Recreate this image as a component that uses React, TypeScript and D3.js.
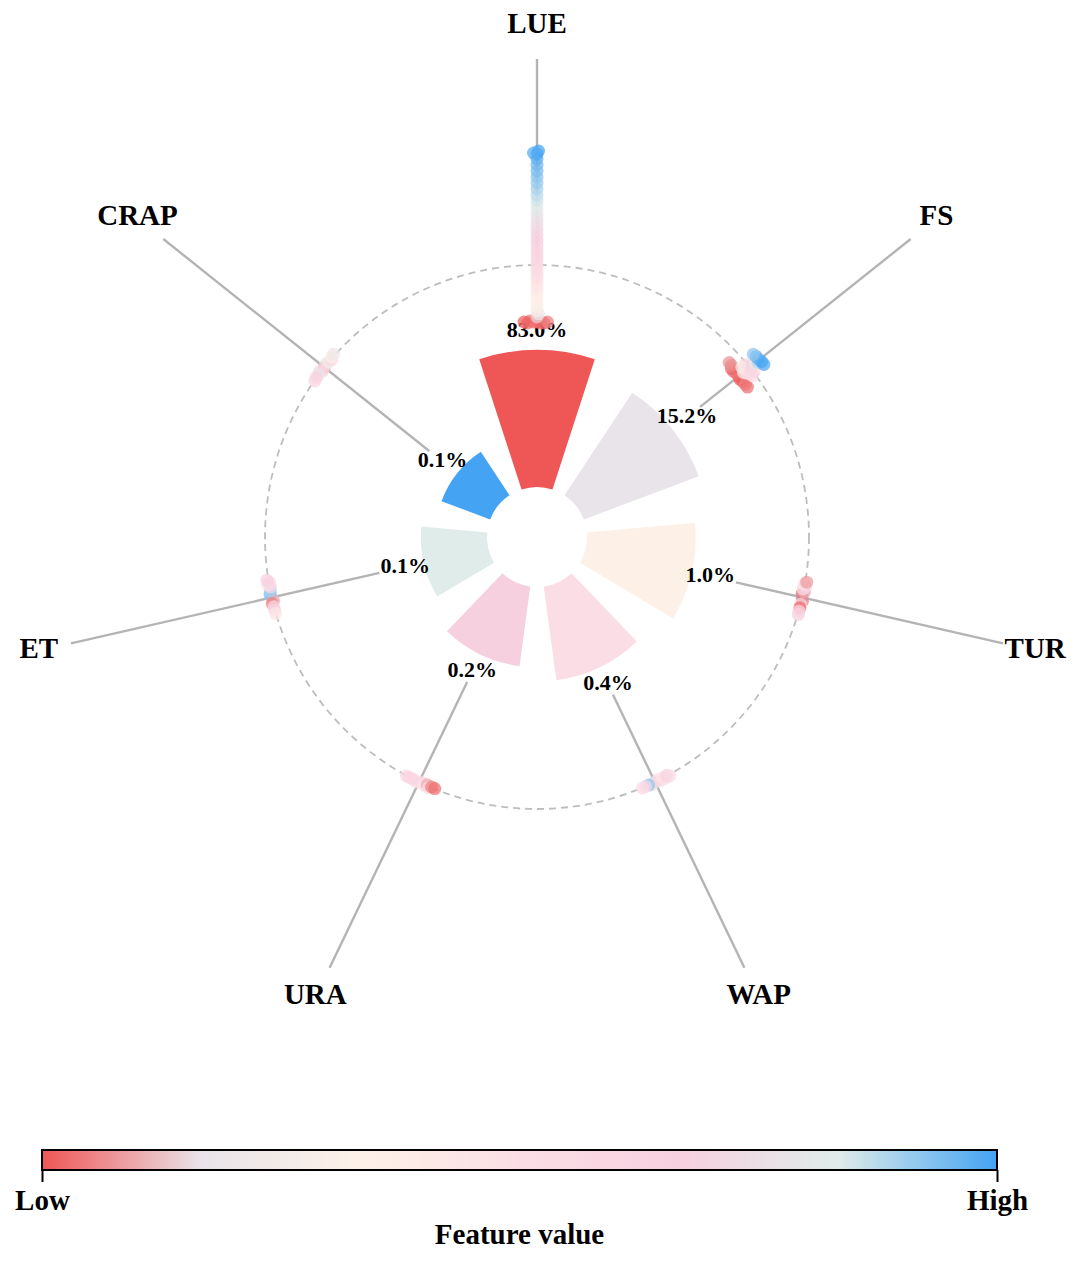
import { useEffect, useRef } from 'react';
import * as d3 from 'd3';

const features = ['LUE', 'FS', 'TUR', 'WAP', 'URA', 'ET', 'CRAP'];
const importance = [83.0, 15.2, 1.0, 0.4, 0.2, 0.1, 0.1];

// colour map for feature value, Low -> High
const cmapStops = [0, 1 / 6, 2 / 6, 3 / 6, 4 / 6, 5 / 6, 1];
const cmapColors = ['#ef5656', '#e8e4e9', '#fdf1e7', '#fbdee5', '#f7d0e0', '#e0ece9', '#44a3f3'];

const colorbarTicks = ['Low', 'High'];

// [shap value, feature value 0..1]
const shapLUE: [number, number][] = [
  [-0.57, 0.0], [-0.58, 0.02], [-0.57, 0.03], [-0.58, 0.01], [-0.56, 0.04], [-0.57, 0.05],
  [-0.58, 0.03], [-0.57, 0.01],
  [-0.52, 0.14], [-0.49, 0.2], [-0.46, 0.26],
  [-0.42, 0.3], [-0.38, 0.32], [-0.34, 0.34], [-0.3, 0.36], [-0.26, 0.38], [-0.22, 0.41],
  [-0.18, 0.44], [-0.14, 0.47],
  [-0.1, 0.5], [-0.06, 0.52], [-0.02, 0.54], [0.02, 0.56], [0.06, 0.58], [0.1, 0.6],
  [0.15, 0.62], [0.2, 0.64], [0.25, 0.66], [0.3, 0.68], [0.35, 0.7],
  [0.4, 0.72], [0.45, 0.75], [0.5, 0.78],
  [0.55, 0.8], [0.6, 0.83], [0.65, 0.85], [0.7, 0.87],
  [0.76, 0.89], [0.82, 0.91], [0.88, 0.92], [0.94, 0.94], [1.0, 0.95], [1.06, 0.97],
  [1.11, 0.99], [1.14, 1.0], [1.12, 0.98],
];

const shapFS: [number, number][] = [
  [-0.14, 0.02], [-0.15, 0.0], [-0.14, 0.04], [-0.14, 0.01], [-0.15, 0.03], [-0.14, 0.05],
  [-0.15, 0.02], [-0.13, 0.06], [-0.14, 0.03], [-0.13, 0.07],
  [-0.08, 0.3], [-0.06, 0.45], [-0.05, 0.55], [-0.04, 0.6], [-0.03, 0.5], [-0.01, 0.65],
  [-0.02, 0.62], [-0.06, 0.4], [0.0, 0.58], [0.03, 0.7], [-0.03, 0.52], [0.01, 0.6],
  [0.07, 0.8], [0.1, 0.88], [0.12, 0.95], [0.13, 1.0], [0.12, 0.97], [0.13, 0.99], [0.11, 0.92],
];

const shapTUR: [number, number][] = [
  [0.0, 0.92], [0.01, 0.05], [-0.01, 0.04], [0.0, 0.6], [0.01, 0.1], [-0.01, 0.55], [0.0, 0.02],
  [0.01, 0.62], [-0.01, 0.5], [0.0, 0.58], [0.01, 0.08], [0.0, 0.65],
];

const shapWAP: [number, number][] = [
  [0.0, 0.88], [0.01, 0.55], [-0.01, 0.5], [0.0, 0.92], [0.01, 0.6], [-0.01, 0.45],
  [0.0, 0.58], [0.01, 0.5], [-0.01, 0.62], [0.0, 0.52], [0.01, 0.55],
];

const shapURA: [number, number][] = [
  [0.0, 0.6], [0.01, 0.5], [-0.01, 0.55], [0.0, 0.62], [0.01, 0.45], [-0.01, 0.1],
  [0.0, 0.58], [0.01, 0.52], [-0.01, 0.05], [0.0, 0.6], [-0.01, 0.03],
];

const shapET: [number, number][] = [
  [0.0, 0.75], [0.01, 0.95], [-0.01, 0.1], [0.0, 0.9], [0.01, 0.05], [0.0, 0.55], [-0.01, 0.6],
  [0.01, 0.5], [0.0, 0.62], [-0.01, 0.58], [0.0, 0.45], [0.01, 0.65],
];

const shapCRAP: [number, number][] = [
  [0.0, 0.08], [0.01, 0.2], [-0.01, 0.6], [0.0, 0.25], [0.01, 0.62], [0.0, 0.18], [-0.01, 0.55],
  [0.01, 0.3], [0.0, 0.65], [0.01, 0.22], [-0.01, 0.6],
];

const shapByFeature = [shapLUE, shapFS, shapTUR, shapWAP, shapURA, shapET, shapCRAP];

const FONT = '"Liberation Serif", "Times New Roman", serif';

// simple beeswarm: push points sideways (tangentially) until they stop colliding
const swarm = (pts: [number, number][], rOf: (s: number) => number, minDist: number) => {
  const placed: { r: number; t: number }[] = [];
  return pts.map(([s, v]) => {
    const r = rOf(s);
    let t = 0;
    for (let k = 0; k < 600; k++) {
      const cand = k === 0 ? 0 : (k % 2 ? 1 : -1) * Math.ceil(k / 2) * 0.5;
      if (placed.every(p => Math.hypot(p.r - r, p.t - cand) >= minDist)) {
        t = cand;
        break;
      }
    }
    placed.push({ r, t });
    return { r, t, v };
  });
};

const App = () => {
  const svgRef = useRef<SVGSVGElement>(null);

  useEffect(() => {
    if (!svgRef.current) return;
    const svg = d3.select(svgRef.current);
    svg.selectAll('*').remove();

    const cx = 537;
    const cy = 537;
    const innerR = 50;

    const step = (2 * Math.PI) / features.length;
    const angle = d3.scaleBand<string>()
      .domain(features)
      .range([-step / 2, 2 * Math.PI - step / 2])
      .paddingInner(0.3)
      .paddingOuter(0.15);
    const mid = (f: string) => (angle(f) || 0) + angle.bandwidth() / 2;

    // bars are sized by importance rank
    const barR = d3.scalePoint<string>().domain(features).range([187, 102]);
    const shapR = d3.scaleLinear().domain([-1, 1]).range([172, 372]);
    const color = d3.scaleLinear<string>()
      .domain(cmapStops)
      .range(cmapColors)
      .interpolate(d3.interpolateRgb);

    const polar = (a: number, r: number): [number, number] => [r * Math.sin(a), -r * Math.cos(a)];

    const g = svg.append('g').attr('transform', `translate(${cx},${cy})`);

    // Bars
    const arc = d3.arc<string>()
      .innerRadius(innerR)
      .outerRadius(f => barR(f) || 0)
      .startAngle(f => angle(f) || 0)
      .endAngle(f => (angle(f) || 0) + angle.bandwidth());

    g.selectAll('.bar')
      .data(features)
      .join('path')
      .attr('class', 'bar')
      .attr('d', f => arc(f))
      .attr('fill', (_, i) => color(i / (features.length - 1)));

    // zero-SHAP ring
    g.append('circle')
      .attr('r', shapR(0))
      .attr('fill', 'none')
      .attr('stroke', '#bdbdbd')
      .attr('stroke-width', 1.8)
      .attr('stroke-dasharray', '7 5');

    const lineG = g.append('g');

    // Percent labels
    const labelOffset = 19;
    const pct = g.selectAll<SVGTextElement, string>('.pct')
      .data(features)
      .join('text')
      .attr('class', 'pct')
      .attr('x', f => polar(mid(f), (barR(f) || 0) + labelOffset)[0])
      .attr('y', f => polar(mid(f), (barR(f) || 0) + labelOffset)[1] - 2)
      .attr('text-anchor', 'middle')
      .attr('dominant-baseline', 'central')
      .attr('font-family', FONT)
      .attr('font-weight', 'bold')
      .attr('font-size', 22)
      .attr('fill', '#000')
      .text((_, i) => `${importance[i].toFixed(1)}%`);

    // Axis spokes start where they leave the label box
    pct.each(function (f) {
      const a = mid(f);
      const r0 = (barR(f) || 0) + labelOffset;
      const [lx, ly0] = polar(a, r0);
      const ly = ly0 - 2;
      const b = this.getBBox();
      const ux = Math.sin(a);
      const uy = -Math.cos(a);
      const pad = 1;
      const tx = ux > 1e-6 ? (b.x + b.width + pad - lx) / ux : ux < -1e-6 ? (b.x - pad - lx) / ux : Infinity;
      const ty = uy > 1e-6 ? (b.y + b.height - 3 + pad - ly) / uy : uy < -1e-6 ? (b.y + 3 - pad - ly) / uy : Infinity;
      const start = r0 + Math.min(tx, ty);
      const p0 = polar(a, start);
      const p1 = polar(a, 478);
      lineG.append('line')
        .attr('x1', p0[0]).attr('y1', p0[1])
        .attr('x2', p1[0]).attr('y2', p1[1])
        .attr('stroke', '#b4b4b4')
        .attr('stroke-width', 2.4);
    });

    // SHAP beeswarm along every spoke
    features.forEach((f, i) => {
      const a = mid(f);
      const pts = swarm(shapByFeature[i], s => shapR(s), 3.2);
      g.append('g')
        .selectAll('circle')
        .data(pts)
        .join('circle')
        .attr('cx', d => d.r * Math.sin(a) + d.t * Math.cos(a))
        .attr('cy', d => -d.r * Math.cos(a) + d.t * Math.sin(a))
        .attr('r', 6.5)
        .attr('fill', d => color(d.v))
        .attr('fill-opacity', 0.72);
    });

    // Feature names
    g.selectAll('.name')
      .data(features)
      .join('text')
      .attr('class', 'name')
      .attr('x', f => polar(mid(f), 511)[0])
      .attr('y', f => polar(mid(f), 511)[1] - 3)
      .attr('text-anchor', 'middle')
      .attr('dominant-baseline', 'central')
      .attr('font-family', FONT)
      .attr('font-weight', 'bold')
      .attr('font-size', 29)
      .text(f => f);

    // Colour bar
    const cbX0 = 42;
    const cbX1 = 997;
    const cbY = 1150;
    const cbH = 20;

    const grad = svg.append('defs')
      .append('linearGradient')
      .attr('id', 'fv-grad')
      .attr('x1', '0%').attr('x2', '100%')
      .attr('y1', '0%').attr('y2', '0%');
    grad.selectAll('stop')
      .data(cmapStops)
      .join('stop')
      .attr('offset', d => `${d * 100}%`)
      .attr('stop-color', (_, i) => cmapColors[i]);

    svg.append('rect')
      .attr('x', cbX0)
      .attr('y', cbY)
      .attr('width', cbX1 - cbX0)
      .attr('height', cbH)
      .attr('fill', 'url(#fv-grad)')
      .attr('stroke', '#000')
      .attr('stroke-width', 2);

    const cbScale = d3.scalePoint<string>().domain(colorbarTicks).range([cbX0, cbX1]);
    const cbAxis = svg.append('g')
      .attr('transform', `translate(0,${cbY + cbH})`)
      .call(d3.axisBottom(cbScale).tickSize(12).tickPadding(7));
    cbAxis.select('.domain').remove();
    cbAxis.selectAll('line').attr('stroke', '#000').attr('stroke-width', 2);
    cbAxis.selectAll('text')
      .attr('font-family', FONT)
      .attr('font-weight', 'bold')
      .attr('font-size', 29)
      .attr('fill', '#000');

    svg.append('text')
      .attr('x', (cbX0 + cbX1) / 2)
      .attr('y', 1244)
      .attr('text-anchor', 'middle')
      .attr('font-family', FONT)
      .attr('font-weight', 'bold')
      .attr('font-size', 29)
      .text('Feature value');
  }, []);

  return (
    <svg
      ref={svgRef}
      width={1080}
      height={1263}
      style={{ position: 'absolute', left: 0, top: 0, background: '#fff' }}
    />
  );
};

export default App;
